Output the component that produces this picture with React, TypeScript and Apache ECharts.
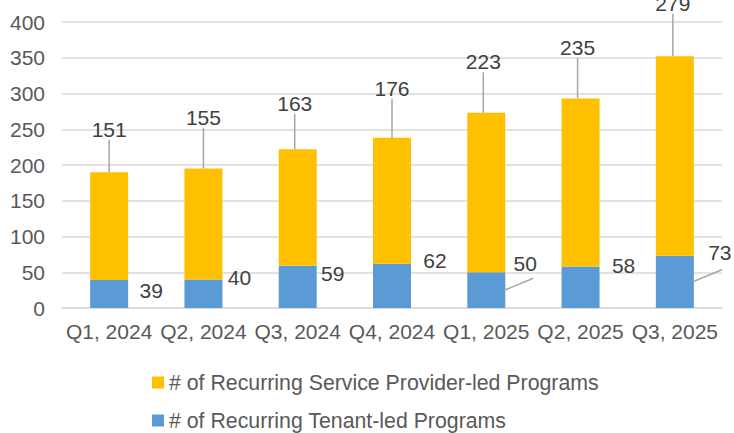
import React, { useEffect, useRef } from "react";
import * as echarts from "echarts";

const categories = ["Q1, 2024", "Q2, 2024", "Q3, 2024", "Q4, 2024", "Q1, 2025", "Q2, 2025", "Q3, 2025"];
const tenantLed = [39, 40, 59, 62, 50, 58, 73];
const providerLed = [151, 155, 163, 176, 223, 235, 279];
const tenantName = "# of Recurring Tenant-led Programs";
const providerName = "# of Recurring Service Provider-led Programs";
const yMin = 0;
const yMax = 400;
const yInterval = 50;

// label placement (pixel offsets relative to the bar the label belongs to)
const BAR_W = 38;
const LABEL_GAP = 5;
const providerLabelDx = [0, 0, -3, 0, -3, -3, -2];
const providerLabelRise = [43, 51, 46, 49, 51, 51, 53];
const tenantLabelDx = [42, 36, 35, 43, 39, 43, 45];
const tenantLabelDy = [10, -2, 8, -3, -9, -1, -3];
// leader lines for some tenant labels
const tenantLeaderIdx = [4, 6];
const tenantLeaderFromDy = [18, 26];
const tenantLeaderToDx = [8, 2];
const tenantLeaderToDy = [15, 17];

const FONT = "'Liberation Sans', Arial, sans-serif";

export default function App() {
  const ref = useRef<HTMLDivElement>(null);
  useEffect(() => {
    if (!ref.current) return;
    const chart = echarts.init(ref.current, undefined, { renderer: "svg" });
    const option: any = {
      animation: false,
      textStyle: { fontFamily: FONT },
      grid: { left: 62, right: 12, top: 22, bottom: 125 },
      legend: {
        orient: "vertical",
        left: 152,
        top: 372,
        padding: 0,
        height: 120,
        itemWidth: 12,
        itemHeight: 12,
        itemGap: 17,
        icon: "rect",
        data: [providerName, tenantName],
        textStyle: { fontFamily: FONT, fontSize: 21.3, lineHeight: 21, color: "#595959" },
      },
      xAxis: {
        type: "category",
        data: categories,
        axisLine: { show: true, lineStyle: { color: "#d9d9d9", width: 1.5 } },
        axisTick: { show: false },
        axisLabel: { fontFamily: FONT, fontSize: 21, color: "#595959", margin: 13, interval: 0 },
      },
      yAxis: {
        type: "value",
        min: yMin,
        max: yMax,
        interval: yInterval,
        axisLine: { show: false },
        axisTick: { show: false },
        splitLine: { lineStyle: { color: "#d9d9d9", width: 1.5 } },
        axisLabel: { fontFamily: FONT, fontSize: 21, color: "#595959", margin: 17 },
      },
      series: [
        {
          name: tenantName,
          type: "bar",
          stack: "total",
          barWidth: BAR_W,
          itemStyle: { color: "#5B9BD5" },
          data: tenantLed,
          label: {
            show: true,
            position: "top",
            fontFamily: FONT,
            fontSize: 21,
            color: "#404040",
          },
          labelLayout: (p: any) => {
            const i = p.dataIndex;
            const r = p.rect;
            const lr = p.labelRect;
            const cx = r.x + r.width / 2 + tenantLabelDx[i];
            const cy = r.y + tenantLabelDy[i];
            return {
              dx: cx - (lr.x + lr.width / 2),
              dy: cy - (lr.y + lr.height / 2),
            };
          },
        },
        {
          name: providerName,
          type: "bar",
          stack: "total",
          barWidth: BAR_W,
          itemStyle: { color: "#FFC000" },
          data: providerLed,
          label: {
            show: true,
            position: "top",
            fontFamily: FONT,
            fontSize: 21,
            color: "#404040",
            padding: [0, 0, LABEL_GAP, 0],
          },
          labelLine: { show: true, lineStyle: { color: "#a6a6a6", width: 1.5 } },
          labelLayout: (p: any) => {
            const i = p.dataIndex;
            const r = p.rect;
            const lr = p.labelRect;
            const bx = r.x + r.width / 2;
            const cx = bx + providerLabelDx[i];
            const cy = r.y - providerLabelRise[i];
            return {
              dx: cx - (lr.x + lr.width / 2),
              dy: cy - (lr.y + lr.height / 2),
            };
          },
        },
        {
          name: "tenant-leaders",
          type: "custom",
          silent: true,
          z: 5,
          data: tenantLeaderIdx.map((ci, k) => [ci, tenantLed[ci], k]),
          renderItem: (params: any, api: any) => {
            const ci = api.value(0);
            const v = api.value(1);
            const k = api.value(2);
            const top = api.coord([ci, v]);
            const x0 = top[0] + BAR_W / 2 - 1;
            const y0 = top[1] + tenantLeaderFromDy[k];
            const x1 = top[0] + tenantLabelDx[ci] + tenantLeaderToDx[k];
            const y1 = top[1] + tenantLabelDy[ci] + tenantLeaderToDy[k];
            return {
              type: "line",
              shape: { x1: x0, y1: y0, x2: x1, y2: y1 },
              style: { stroke: "#a6a6a6", lineWidth: 1.5 },
            };
          },
        },
      ],
    };
    chart.setOption(option);
    return () => chart.dispose();
  }, []);
  return <div ref={ref} style={{ width: 734, height: 433, position: "absolute", left: 0, top: 0 }} />;
}
